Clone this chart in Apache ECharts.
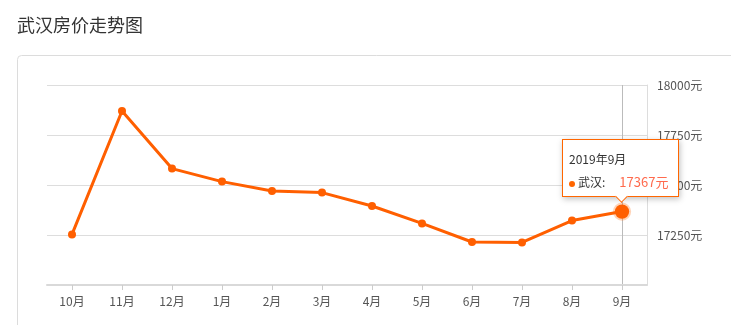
<!DOCTYPE html>
<html>
<head>
<meta charset="utf-8">
<script src="https://cdn.jsdelivr.net/npm/echarts@6/dist/echarts.min.js"></script>
<style>
html,body{margin:0;padding:0;background:#fff;}
#c{width:731px;height:325px;}
</style>
</head>
<body>
<div id="c"></div>
<script>
var titleText = '武汉房价走势图';
var seriesName = '武汉';
var categories = ['10月','11月','12月','1月','2月','3月','4月','5月','6月','7月','8月','9月'];
var tooltipDates = ['2018年10月','2018年11月','2018年12月','2019年1月','2019年2月','2019年3月','2019年4月','2019年5月','2019年6月','2019年7月','2019年8月','2019年9月'];
var prices = [17253, 17870, 17582, 17517, 17470, 17462, 17395, 17308, 17215, 17213, 17322, 17367];
var yMin = 17000, yMax = 18000, yStep = 250;

var font = '"Noto Sans CJK SC", "Microsoft YaHei", sans-serif';
var chart = echarts.init(document.getElementById('c'));
var lastIdx = prices.length - 1;
var data = prices.map(function (v, i) {
  if (i === lastIdx) {
    return { value: v, symbolSize: 13, itemStyle: { borderColor: 'rgba(255,100,0,0.28)', borderWidth: 4 } };
  }
  return v;
});
chart.setOption({
  animation: false,
  title: {
    text: titleText, left: 12, top: 11,
    textStyle: { fontSize: 18, fontWeight: 'normal', color: '#333', fontFamily: font }
  },
  graphic: [{
    type: 'rect', silent: true, z: -1,
    shape: { x: 17.5, y: 55.5, width: 730, height: 290, r: 4 },
    style: { fill: '#fff', stroke: '#dcdcdc', lineWidth: 1 }
  }],
  grid: { left: 47, right: 84, top: 85, bottom: 40 },
  tooltip: {
    trigger: 'axis',
    alwaysShowContent: true,
    transitionDuration: 0,
    showDelay: 0,
    backgroundColor: '#fff',
    borderColor: '#ff6600',
    borderWidth: 1,
    padding: [8, 8, 8, 6],
    extraCssText: 'box-shadow:1px 2px 6px rgba(0,0,0,0.25);border-radius:0;width:101px;height:40px;overflow:visible;',
    textStyle: { fontFamily: font, fontSize: 12, color: '#333' },
    axisPointer: { type: 'line', z: 0, lineStyle: { color: '#bbb', width: 1, type: 'solid' } },
    position: function (point, params, dom, rect, size) {
      return [562, 139];
    },
    formatter: function (params) {
      var p = params[0];
      return '<div style="position:relative;line-height:20px;font-size:12px;">' +
        '<div style="color:#333;margin-top:1px;">' + tooltipDates[p.dataIndex] + '</div>' +
        '<div style="margin-top:3px;white-space:nowrap;"><span style="display:inline-block;width:6px;height:6px;border-radius:3px;background:#ff6600;margin-right:3px;vertical-align:middle;"></span>' +
        '<span style="color:#333;">' + seriesName + ':</span>' +
        '<span style="color:#ff6a4d;font-size:13px;margin-left:14px;">' + p.value + '元</span></div>' +
        '<div style="position:absolute;left:48px;top:43px;width:8px;height:8px;background:#fff;border-right:1px solid #ff6600;border-bottom:1px solid #ff6600;transform:rotate(45deg);"></div>' +
        '</div>';
    }
  },
  xAxis: {
    type: 'category',
    data: categories,
    boundaryGap: true,
    axisLine: { show: true, lineStyle: { color: '#d9d9d9', width: 2 } },
    axisTick: { show: true, alignWithLabel: true, length: 5, lineStyle: { color: '#ccc' } },
    axisLabel: { color: '#555', fontSize: 12, fontFamily: font, margin: 10 },
    splitLine: { show: false }
  },
  yAxis: {
    type: 'value',
    position: 'right',
    min: yMin, max: yMax, interval: yStep,
    axisLine: { show: true, lineStyle: { color: '#ddd', width: 1 } },
    axisTick: { show: false },
    axisLabel: {
      color: '#555', fontSize: 12, fontFamily: font, margin: 10,
      formatter: function (v) { return v === yMin ? '' : v + '元'; }
    },
    splitLine: { show: true, lineStyle: { color: '#ddd', width: 1 } }
  },
  series: [{
    name: seriesName,
    type: 'line',
    data: data,
    symbol: 'circle',
    symbolSize: 8,
    z: 3,
    lineStyle: { color: '#ff5f00', width: 3 },
    itemStyle: { color: '#ff5f00' },
    emphasis: { disabled: true }
  }]
});
chart.dispatchAction({ type: 'showTip', seriesIndex: 0, dataIndex: lastIdx });
</script>
</body>
</html>
